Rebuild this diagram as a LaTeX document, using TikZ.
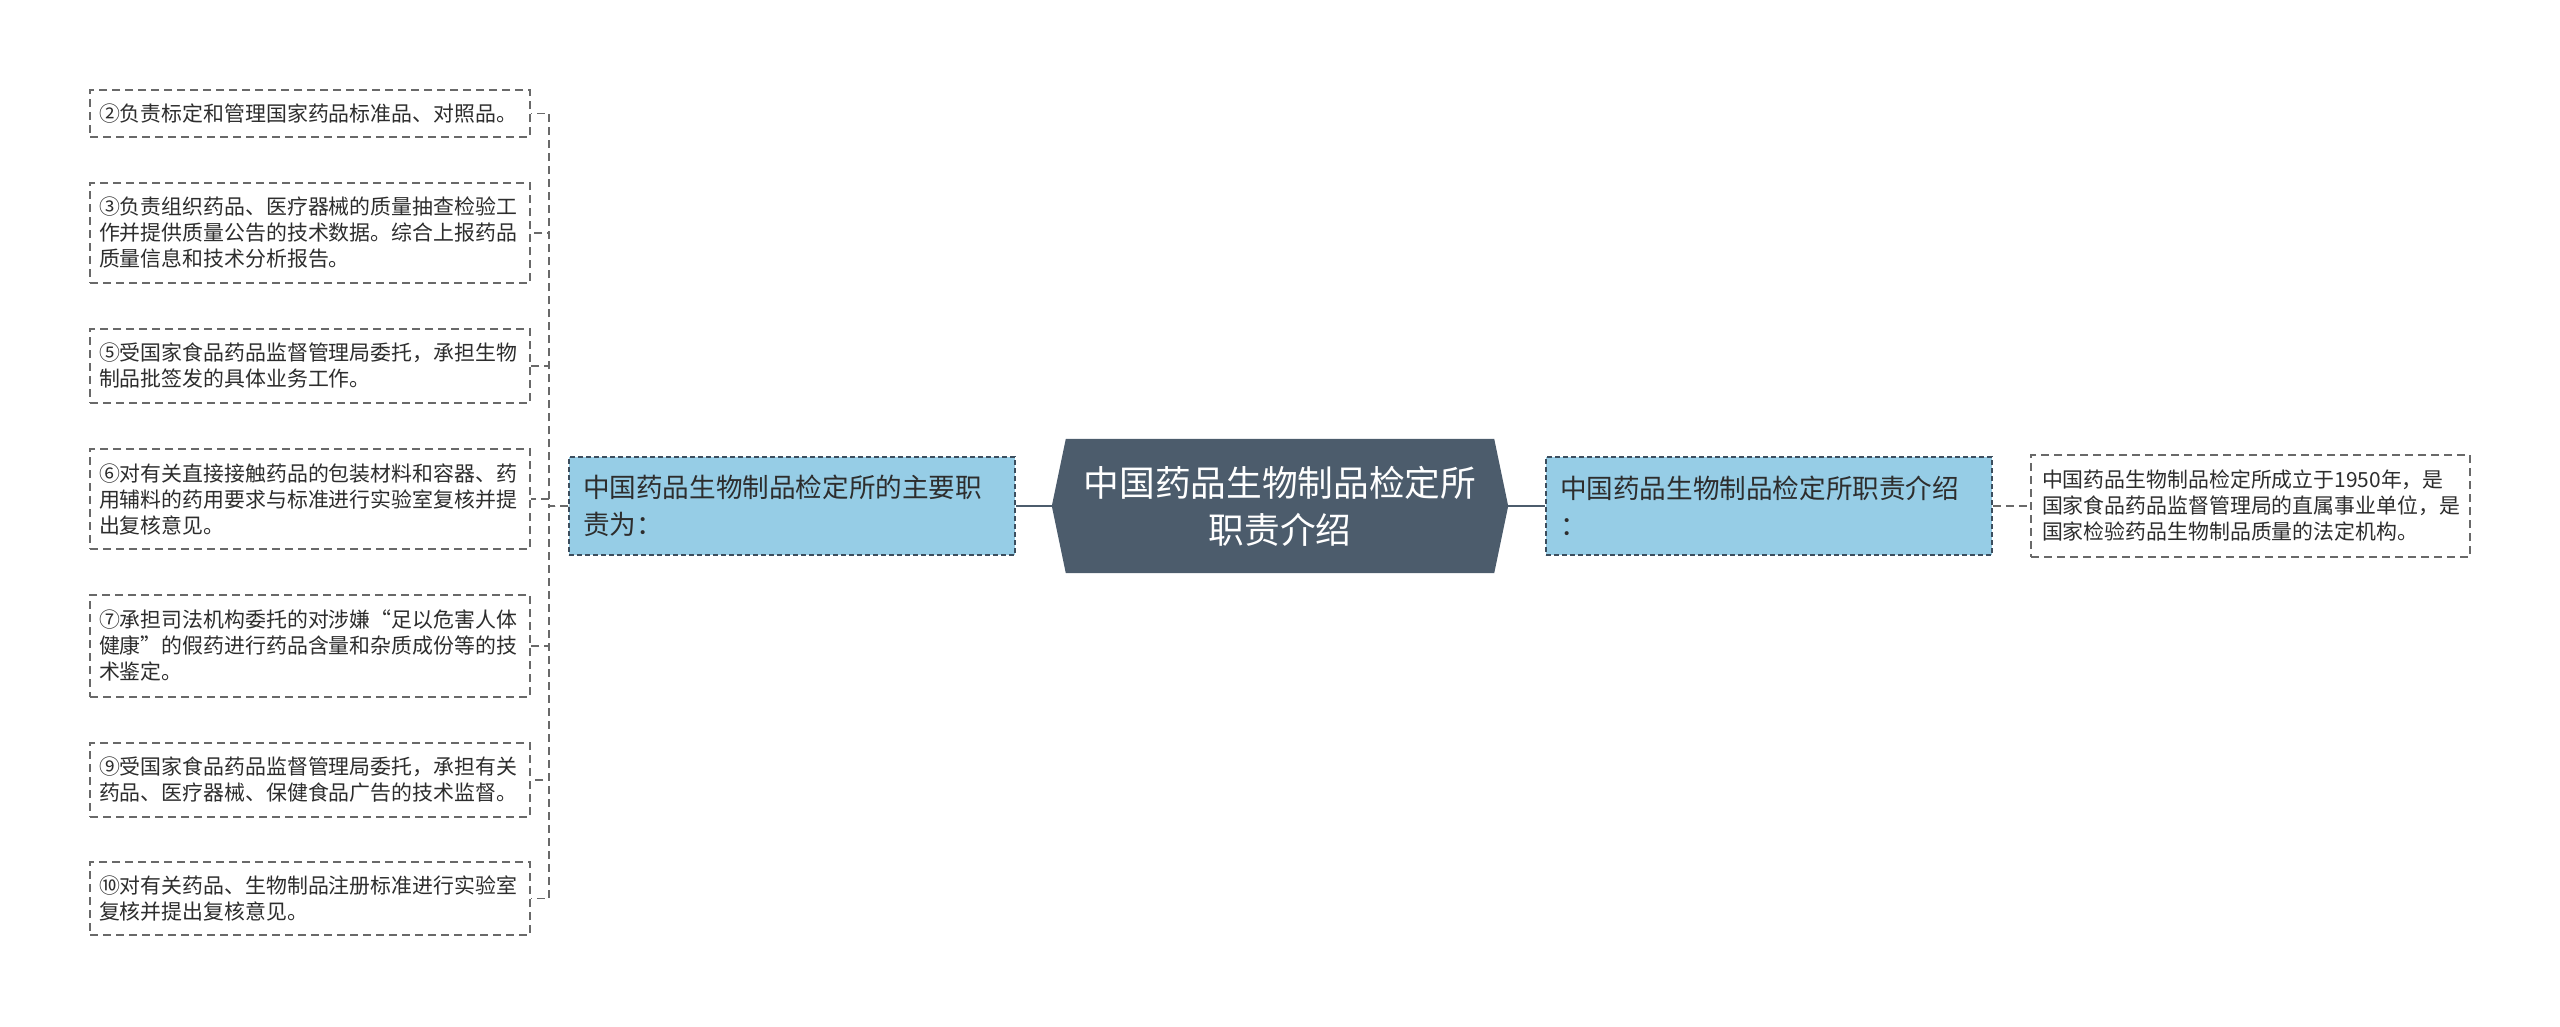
\documentclass[tikz,border=0pt]{standalone}
\usepackage{fontspec}
\setmainfont{Noto Sans CJK SC}
\usetikzlibrary{backgrounds}
\definecolor{bluefill}{RGB}{150,205,230}
\definecolor{centerfill}{RGB}{76,92,108}
\definecolor{txt}{RGB}{45,45,45}
\definecolor{leafline}{RGB}{105,105,105}
\definecolor{branchline}{RGB}{60,78,94}
\definecolor{mainline}{RGB}{76,92,108}
\begin{document}
\begin{tikzpicture}[x=1pt,y=-1pt,
  leaf/.style={draw=leafline, line width=1.6pt, dash pattern=on 8pt off 5pt, fill=white, text=txt,
    align=left, inner ysep=0pt, inner xsep=9pt, text width=422pt, minimum width=440pt,
    font=\fontsize{20.9}{26}\selectfont},
  rleaf/.style={leaf, inner xsep=11pt, text width=417pt, minimum width=439pt},
  branch/.style={draw=branchline, line width=1.5pt, dash pattern=on 5pt off 3pt, fill=bluefill, text=txt,
    align=left, inner ysep=0pt, inner xsep=14pt, text width=418pt, minimum width=446pt, minimum height=98pt,
    font=\fontsize{26.6}{37}\selectfont},
  centre/.style={text=white, align=center, inner sep=0pt, minimum width=456pt, minimum height=134pt,
    font=\fontsize{35.7}{47}\selectfont},
  tree/.style={draw=leafline, line width=1.6pt, dash pattern=on 8pt off 5pt},
  mainconn/.style={draw=mainline, line width=2.2pt}
]
\useasboundingbox (0,0) rectangle (2560,1026);

% centre
\node[centre] (c) at (1280,506) {中国药品生物制品检定所\\职责介绍};
\begin{scope}[on background layer]
\fill[centerfill] (c.west) -- ([xshift=14pt]c.north west) -- ([xshift=-14pt]c.north east) -- (c.east)
  -- ([xshift=-14pt]c.south east) -- ([xshift=14pt]c.south west) -- cycle;
\end{scope}

% branches
\node[branch] (lb) at (792,506) {中国药品生物制品检定所的主要职\\责为：};
\node[branch] (rb) at (1769,506) {中国药品生物制品检定所职责介绍\\：};

% right leaf
\node[rleaf, minimum height=102pt] (rl) at (2250.5,506) {中国药品生物制品检定所成立于1950年，是\\国家食品药品监督管理局的直属事业单位，是\\国家检验药品生物制品质量的法定机构。};

% left leaves
\node[leaf, minimum height=47pt] (l1) at (310,113.5) {②负责标定和管理国家药品标准品、对照品。};
\node[leaf, minimum height=100pt] (l2) at (310,233) {③负责组织药品、医疗器械的质量抽查检验工\\作并提供质量公告的技术数据。综合上报药品\\质量信息和技术分析报告。};
\node[leaf, minimum height=74pt] (l3) at (310,366) {⑤受国家食品药品监督管理局委托，承担生物\\制品批签发的具体业务工作。};
\node[leaf, minimum height=100pt] (l4) at (310,499) {⑥对有关直接接触药品的包装材料和容器、药\\用辅料的药用要求与标准进行实验室复核并提\\出复核意见。};
\node[leaf, minimum height=102pt] (l5) at (310,646) {⑦承担司法机构委托的对涉嫌“足以危害人体\\健康”的假药进行药品含量和杂质成份等的技\\术鉴定。};
\node[leaf, minimum height=74pt] (l6) at (310,780) {⑨受国家食品药品监督管理局委托，承担有关\\药品、医疗器械、保健食品广告的技术监督。};
\node[leaf, minimum height=73pt] (l7) at (310,898.5) {⑩对有关药品、生物制品注册标准进行实验室\\复核并提出复核意见。};

% connectors
\draw[mainconn] (c.west) -- (lb.east);
\draw[mainconn] (c.east) -- (rb.west);
\draw[tree] (rb.east) -- (rl.west);
\foreach \n in {l1,l2,l3,l4,l5,l6,l7}
  \draw[tree] (lb.west) -- ++(-19,0) |- (\n.east);
\end{tikzpicture}
\end{document}
